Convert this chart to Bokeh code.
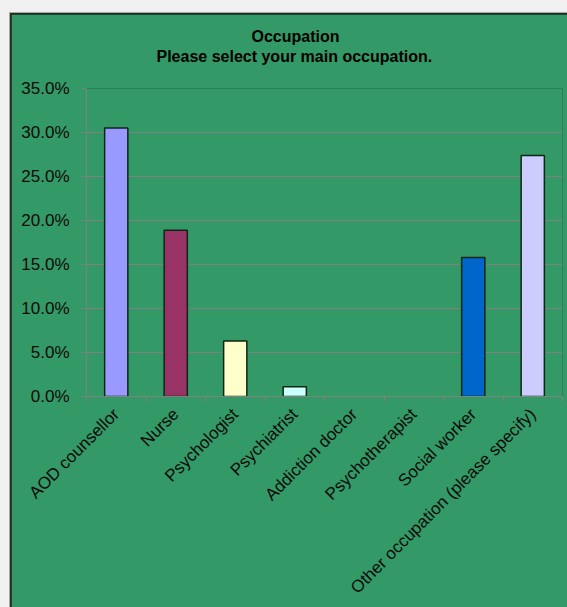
import math
from bokeh.plotting import figure
from bokeh.models import (ColumnDataSource, FixedTicker, PrintfTickFormatter, Title, Range1d, Column)
from bokeh.embed import file_html
from bokeh.resources import INLINE

categories = ["AOD counsellor", "Nurse", "Psychologist", "Psychiatrist",
              "Addiction doctor", "Psychotherapist", "Social worker",
              "Other occupation (please specify)"]
values = [30.5, 18.9, 6.3, 1.1, 0.0, 0.0, 15.8, 27.4]
colors = ["#9999FF", "#993366", "#FFFFCC", "#CCFFFF", "#660066", "#FF8080", "#0066CC", "#CCCCFF"]
y_ticks = [0, 5, 10, 15, 20, 25, 30, 35]
title_text = "Occupation"
subtitle_text = "Please select your main occupation."

GREEN = "#339966"
FONT = "Liberation Sans"

xs = [i + 0.5 for i in range(len(categories))]
keep = [i for i, v in enumerate(values) if v > 0]
src = ColumnDataSource(dict(
    x=[xs[i] for i in keep],
    top=[values[i] for i in keep],
    color=[colors[i] for i in keep],
))

p = figure(width=556, height=593, output_backend="svg", toolbar_location=None,
           x_range=Range1d(0, len(categories)), y_range=Range1d(0, 35),
           min_border_left=75, min_border_right=5, min_border_top=74, min_border_bottom=211,
           border_fill_color=GREEN, background_fill_color=GREEN, outline_line_color=None,
           margin=(1, 0, 0, 1))
p.title.visible = False

p.vbar(x="x", top="top", width=0.39, bottom=0, source=src, fill_color="color",
       line_color="#0d2614", line_width=1.5)

# titles (spacer closest to the frame, then subtitle, then main title)
spacer = Title(text=" ", text_font_size="1px", standoff=20, text_color=GREEN)
sub = Title(text=subtitle_text, align="left", offset=70, text_font=FONT,
            text_font_size="16px", text_font_style="bold", text_color="#000000", standoff=2)
main = Title(text=title_text, align="left", offset=165, text_font=FONT,
             text_font_size="16px", text_font_style="bold", text_color="#000000", standoff=0)
p.add_layout(spacer, "above")
p.add_layout(sub, "above")
p.add_layout(main, "above")

# y axis
p.yaxis.ticker = FixedTicker(ticks=y_ticks)
p.yaxis.formatter = PrintfTickFormatter(format="%.1f%%")
p.yaxis.axis_line_color = "#808080"
p.yaxis.major_tick_line_color = "#808080"
p.yaxis.major_tick_out = 5
p.yaxis.major_tick_in = 0
p.yaxis.minor_tick_line_color = None
p.yaxis.major_label_text_font = FONT
p.yaxis.major_label_text_font_size = "17px"
p.yaxis.major_label_text_color = "#0a0a0a"
p.yaxis.major_label_standoff = 12

# x axis
p.xaxis.ticker = FixedTicker(ticks=xs, minor_ticks=list(range(len(categories) + 1)))
p.xaxis.major_label_overrides = {x: c for x, c in zip(xs, categories)}
p.xaxis.major_label_orientation = math.pi / 4
p.xaxis.axis_line_color = "#808080"
p.xaxis.major_tick_line_color = None
p.xaxis.minor_tick_line_color = "#808080"
p.xaxis.minor_tick_out = 5
p.xaxis.minor_tick_in = 0
p.xaxis.major_label_text_font = FONT
p.xaxis.major_label_text_font_size = "17px"
p.xaxis.major_label_text_color = "#0a0a0a"
p.xaxis.major_label_standoff = 9

p.xgrid.grid_line_color = None
p.ygrid.grid_line_color = "#808080"
p.ygrid.ticker = FixedTicker(ticks=y_ticks)

inner = Column(p, width=557, height=594, margin=(1, 0, 0, 1),
               styles={"background-color": "#1e2a22"})
mid = Column(inner, width=558, height=595, margin=(12, 0, 0, 9),
             styles={"background-color": "#a8a8a8"})
outer = Column(mid, width=567, height=607, styles={"background-color": "#f0f0f0"})

open("out.html", "w").write(file_html(outer, INLINE))
